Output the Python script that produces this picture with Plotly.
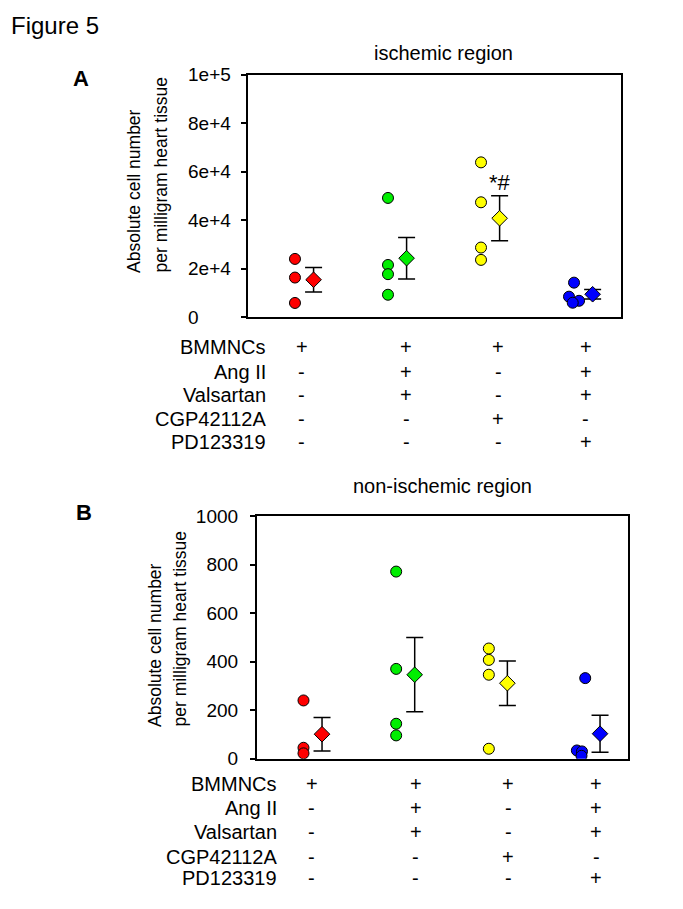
import plotly.graph_objects as go

# The page body has an 8px margin; figure pixel = page pixel - 8
OFF = 8
W, H = 683 - OFF, 909 - OFF


def px(x):
    return (x - OFF) / W


def py(y):
    return 1 - (y - OFF) / H


FONT = "Liberation Sans, Arial, sans-serif"

# ---------------- data ----------------
group_pos = [1, 2, 3, 4]
colors = ["#ff0000", "#00ee00", "#ffff00", "#0000ff"]

isch_points = [
    [24000, 16300, 5800],
    [49200, 21500, 17700, 9200],
    [63900, 47400, 28700, 23600],
    [14200, 8400, 6700, 5900],
]
isch_jitter = [[0, 0, 0], [0, 0, 0, 0], [0, 0, 0, 0], [0, -0.054, 0.054, -0.014]]
isch_mean = [15400, 24300, 40800, 9400]
isch_sem = [5100, 8600, 9300, 2000]
isch_ticks = [0, 20000, 40000, 60000, 80000, 100000]
isch_ticktext = ["0", "2e+4", "4e+4", "6e+4", "8e+4", "1e+5"]

non_points = [
    [240, 45, 22],
    [771, 370, 144, 96],
    [454, 407, 346, 41],
    [332, 34, 30, 12],
]
non_jitter = [[0, 0, 0], [0, 0, 0, 0], [0, 0, 0, 0], [0.04, -0.05, 0.005, 0.0]]
non_mean = [101, 346, 311, 103]
non_sem = [69, 153, 92, 76]
non_ticks = [0, 200, 400, 600, 800, 1000]

treatments = ["BMMNCs", "Ang II", "Valsartan", "CGP42112A", "PD123319"]
signs = [
    ["+", "+", "+", "+"],
    ["-", "+", "-", "+"],
    ["-", "+", "-", "+"],
    ["-", "-", "+", "-"],
    ["-", "-", "-", "+"],
]

# ---------------- figure ----------------
fig = go.Figure()


def add_panel(points, jitter, mean, sem, xa, ya):
    for g, pts, jit, m, s, c in zip(group_pos, points, jitter, mean, sem, colors):
        fig.add_trace(go.Scatter(
            x=[g + j for j in jit], y=pts, mode="markers", xaxis=xa, yaxis=ya,
            marker=dict(symbol="circle", size=11, color=c,
                        line=dict(color="black", width=1)),
            showlegend=False, hoverinfo="y"))
        fig.add_trace(go.Scatter(
            x=[g + 0.2], y=[m], mode="markers", xaxis=xa, yaxis=ya,
            marker=dict(symbol="diamond", size=12, color=c,
                        line=dict(color="black", width=1)),
            error_y=dict(type="data", array=[s], color="black",
                         thickness=1.5, width=8.5),
            showlegend=False, hoverinfo="y"))


add_panel(isch_points, isch_jitter, isch_mean, isch_sem, "x", "y")
add_panel(non_points, non_jitter, non_mean, non_sem, "x2", "y2")

axis_common = dict(showgrid=False, zeroline=False, showline=True,
                   linecolor="black", linewidth=1.5, mirror=True)

annotations = []


def txt(x, y, text, size, xanchor="center", yanchor="middle", xref="paper",
        yref="paper", angle=0):
    annotations.append(dict(x=x, y=y, xref=xref, yref=yref, text=text,
                            showarrow=False, xanchor=xanchor, yanchor=yanchor,
                            textangle=angle,
                            font=dict(family=FONT, size=size, color="black")))


# Panel A y tick labels (left aligned as in reference)
for v, t in zip(isch_ticks, isch_ticktext):
    txt(px(186), v, t, 19, xanchor="left", yref="y")

# Titles
txt(px(443), py(53), "ischemic region", 20)
txt(px(442), py(486), "non-ischemic region", 20)

# Figure label and panel letters
txt(px(9), py(10), "Figure 5", 24, xanchor="left", yanchor="top")
txt(px(81), py(78), "<b>A</b>", 22)
txt(px(84), py(512), "<b>B</b>", 22)

# Y-axis titles
for (x1, x2, yb) in [(134, 160, 275), (155, 179, 729)]:
    txt(px(x1), py(yb), "Absolute cell number", 17.5, yanchor="bottom", angle=-90)
    txt(px(x2), py(yb), "per milligram heart tissue", 17.5, yanchor="bottom",
        angle=-90)

# Significance marker
txt(3.2, 55500, "*#", 22, xref="x", yref="y")

# Treatment tables
tables = [
    dict(rows=[346.7, 371.7, 395, 419.3, 441.7], lab=268,
         cols=[301.7, 406, 498.3, 585.7]),
    dict(rows=[784, 808.3, 831.7, 856.7, 878.3], lab=279,
         cols=[311.7, 415.7, 508.3, 596]),
]
for tb in tables:
    for r, (name, row) in enumerate(zip(treatments, signs)):
        txt(px(tb["lab"]), py(tb["rows"][r]), name, 20, xanchor="right")
        for c, s in enumerate(row):
            txt(px(tb["cols"][c]), py(tb["rows"][r]), s, 20)

fig.update_layout(
    width=W, height=H,
    margin=dict(l=0, r=0, t=0, b=0, autoexpand=False),
    paper_bgcolor="white", plot_bgcolor="white",
    font=dict(family=FONT, size=18, color="black"),
    xaxis=dict(domain=[px(248), px(621)], range=[0.495, 4.505],
               showticklabels=False, ticks="", anchor="y", **axis_common),
    yaxis=dict(domain=[py(317), py(75)], range=[0, 100000],
               tickvals=isch_ticks, showticklabels=False,
               ticks="outside", ticklen=5, tickwidth=1.5, tickcolor="black",
               anchor="x", **axis_common),
    xaxis2=dict(domain=[px(256.7), px(628.3)], range=[0.495, 4.505],
                showticklabels=False, ticks="", anchor="y2", **axis_common),
    yaxis2=dict(domain=[py(758.7), py(516)], range=[0, 1000],
                tickvals=non_ticks, ticks="outside", ticklen=5, tickwidth=1.5,
                tickcolor="black", ticklabelstandoff=8,
                tickfont=dict(family=FONT, size=19, color="black"),
                anchor="x2", **axis_common),
    annotations=annotations,
)

fig.write_html("out.html")
